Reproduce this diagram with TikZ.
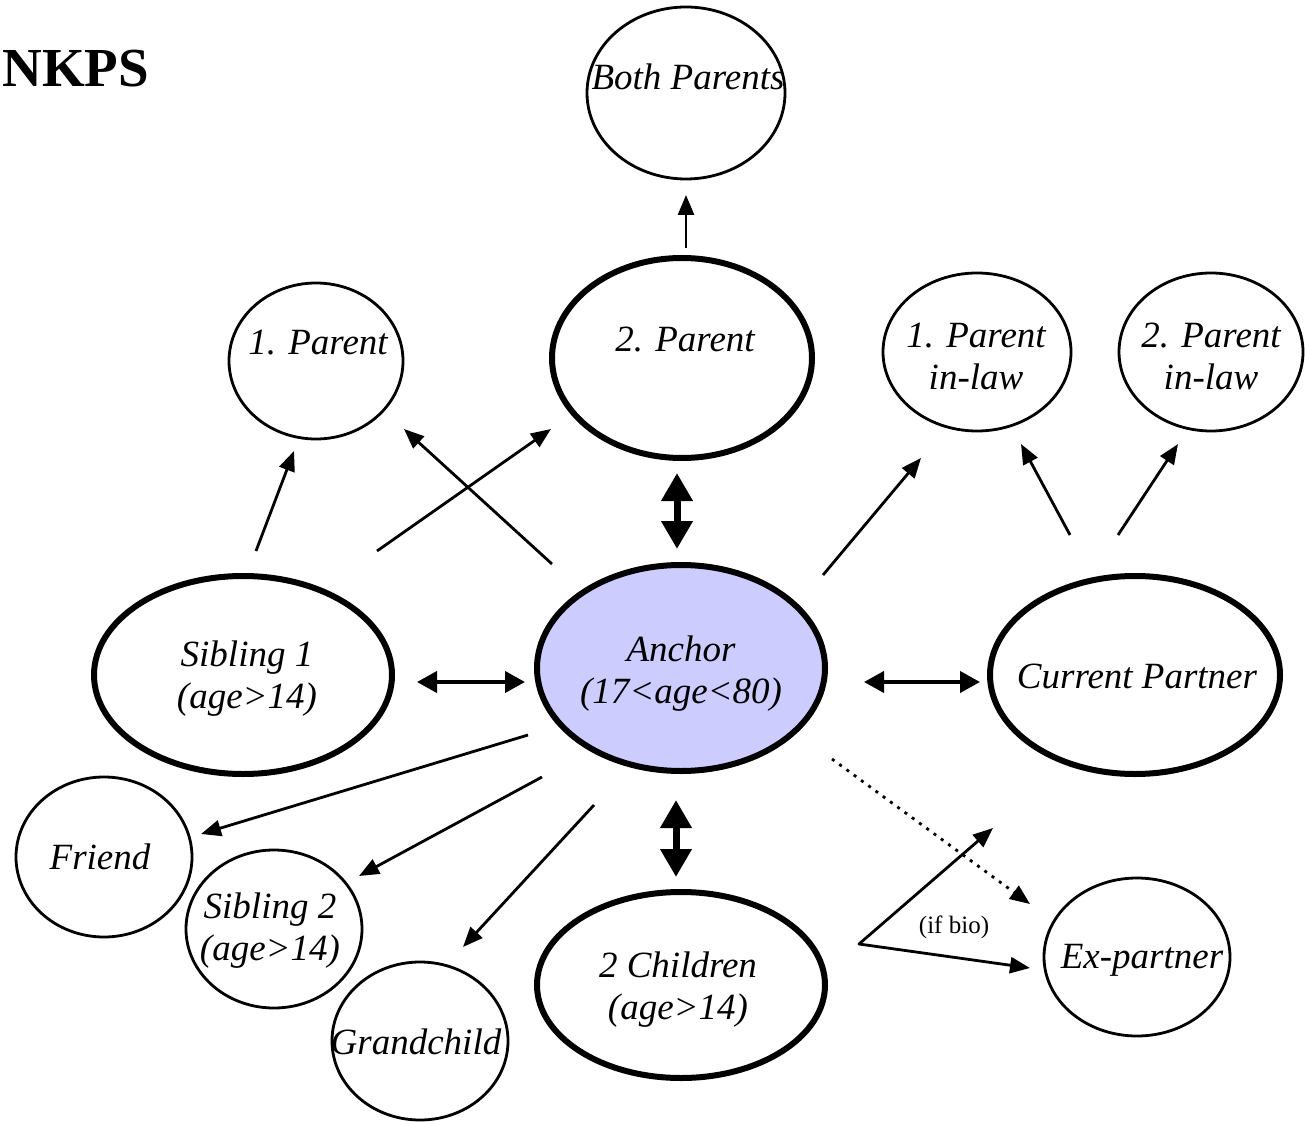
\documentclass[tikz,border=0pt]{standalone}
\usepackage{fontspec}
\setmainfont{Liberation Serif}
\usetikzlibrary{shapes.geometric,arrows.meta}
\definecolor{anchorblue}{RGB}{204,204,255}
\tikzset{
	kin/.style={ellipse, draw, line width=1.4pt, inner sep=0pt},
	core/.style={ellipse, draw, line width=3pt, inner sep=0pt},
	lbl/.style={font=\fontsize{18.5}{21}\selectfont\itshape, align=center, inner sep=0pt},
	arr/.style={-{Triangle[length=10pt,width=8pt]}, line width=1.4pt},
	dbl/.style={{Triangle[length=10pt,width=10.5pt]}-{Triangle[length=10pt,width=10.5pt]}, line width=2pt},
	big/.style={{Triangle[length=14pt,width=15pt]}-{Triangle[length=14pt,width=15pt]}, line width=3.5pt},
	dotarr/.style={arr, dash pattern=on 1.5pt off 3pt}
}
\begin{document}
\begin{tikzpicture}[x=0.5pt, y=-0.5pt, line join=round]
	\useasboundingbox (0,0) rectangle (1305,1122);
	\node[anchor=west, inner sep=0pt, font=\fontsize{27.5}{30}\selectfont\bfseries] (title) at (2,69) {NKPS};
	% persons
	\node[kin, minimum width=99pt, minimum height=86pt] (both) at (686,93) {};
	\node[core, minimum width=130pt, minimum height=100pt] (par2) at (682,358) {};
	\node[kin, minimum width=87pt, minimum height=78pt] (par1) at (316,361) {};
	\node[kin, minimum width=94pt, minimum height=79pt] (pil1) at (977,352) {};
	\node[kin, minimum width=92pt, minimum height=79pt] (pil2) at (1211,352) {};
	\node[core, minimum width=149pt, minimum height=99pt] (sib1) at (243,675) {};
	\node[core, fill=anchorblue, minimum width=144pt, minimum height=103pt] (anchor) at (681,668) {};
	\node[core, minimum width=145pt, minimum height=99pt] (partner) at (1135,675) {};
	\node[kin, minimum width=88pt, minimum height=80pt] (friend) at (104,857) {};
	\node[kin, minimum width=88pt, minimum height=79pt] (sib2) at (274,929) {};
	\node[kin, minimum width=88pt, minimum height=79pt] (grand) at (420,1041) {};
	\node[core, minimum width=144pt, minimum height=93pt] (kids) at (681,985) {};
	\node[kin, minimum width=93pt, minimum height=79pt] (expart) at (1137,957) {};
	% texts
	\node[lbl] (bothtxt) at (688,77) {Both Parents};
	\node[lbl] (par2txt) at (685,340) {2. Parent};
	\node[lbl] (par1txt) at (318,343) {1. Parent};
	\node[lbl] (pil1txt) at (976,356) {1. Parent\\in-law};
	\node[lbl] (pil2txt) at (1211,356) {2. Parent\\in-law};
	\node[lbl] (sib1txt) at (247,679) {Sibling 1\\(age>14)};
	\node[lbl] (anchortxt) at (681,674) {Anchor\\(17<age<80)};
	\node[lbl] (partnertxt) at (1137,676) {Current Partner};
	\node[lbl] (friendtxt) at (100,857) {Friend};
	\node[lbl] (sib2txt) at (270,931) {Sibling 2\\(age>14)};
	\node[lbl] (grandtxt) at (416,1042) {Grandchild};
	\node[lbl] (kidstxt) at (678,990) {2 Children\\(age>14)};
	\node[lbl] (exparttxt) at (1142,960) {Ex-partner};
	\node[font=\fontsize{12.5}{14}\selectfont, inner sep=0pt] (ifbio) at (954,927) {(if bio)};
	% arrow ends
	\coordinate (p2c) at (686,248); \coordinate (bp1) at (686,195);
	\coordinate (s1a) at (256,551); \coordinate (p1a) at (294,451);
	\coordinate (s1b) at (377,551); \coordinate (p2a) at (551,429);
	\coordinate (anc1) at (552,564); \coordinate (p1b) at (404,429);
	\coordinate (anc2) at (677,549); \coordinate (p2b) at (677,473);
	\coordinate (anc3) at (823,575); \coordinate (pl1a) at (921,458);
	\coordinate (cp1) at (1070,535); \coordinate (pl1b) at (1021,444);
	\coordinate (cp2) at (1118,535); \coordinate (pl2a) at (1178,444);
	\coordinate (s1c) at (417,682); \coordinate (anc4) at (525,682);
	\coordinate (anc5) at (864,682); \coordinate (cp3) at (980,682);
	\coordinate (anc6) at (528,735); \coordinate (fr1) at (201,834);
	\coordinate (anc7) at (542,777); \coordinate (s2a) at (359,876);
	\coordinate (anc8) at (594,805); \coordinate (gc1) at (463,947);
	\coordinate (anc9) at (676,800); \coordinate (ch1) at (676,877);
	\coordinate (anc10) at (832,759); \coordinate (ex1) at (1030,904);
	\coordinate (bio) at (859,944); \coordinate (cp4) at (993,828); \coordinate (ex2) at (1030,968);
	% connectors
	\draw[arr] (p2c)--(bp1);
	\draw[arr] (s1a)--(p1a);
	\draw[arr] (s1b)--(p2a);
	\draw[arr] (anc1)--(p1b);
	\draw[big] (anc2)--(p2b);
	\draw[arr] (anc3)--(pl1a);
	\draw[arr] (cp1)--(pl1b);
	\draw[arr] (cp2)--(pl2a);
	\draw[dbl] (s1c)--(anc4);
	\draw[dbl] (anc5)--(cp3);
	\draw[arr] (anc6)--(fr1);
	\draw[arr] (anc7)--(s2a);
	\draw[arr] (anc8)--(gc1);
	\draw[big] (anc9)--(ch1);
	\draw[dotarr] (anc10)--(ex1);
	\draw[arr, {Triangle[length=10pt,width=8pt]}-{Triangle[length=10pt,width=8pt]}] (cp4)--(bio)--(ex2);
\end{tikzpicture}
\end{document}
